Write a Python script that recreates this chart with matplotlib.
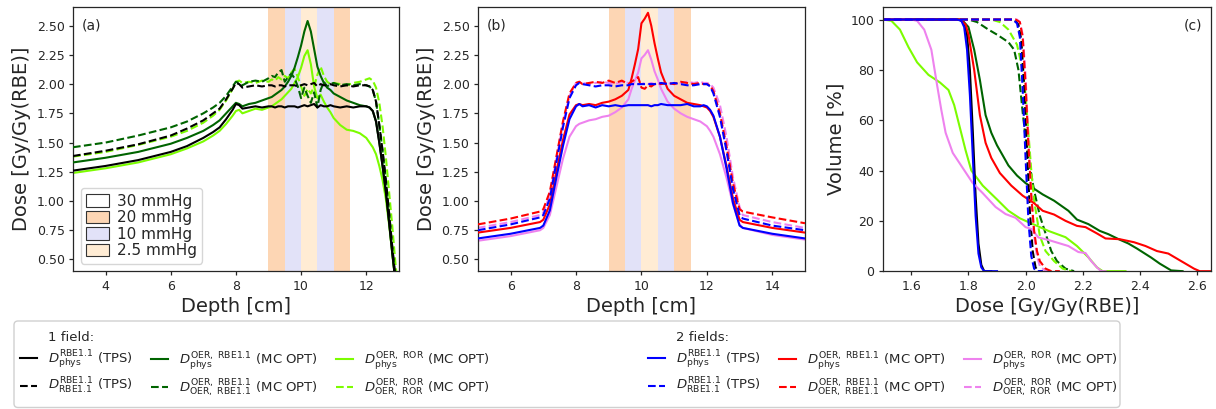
import matplotlib
matplotlib.use("Agg")
import matplotlib.pyplot as plt
from matplotlib.lines import Line2D
from matplotlib.patches import Patch, FancyBboxPatch
from matplotlib.transforms import IdentityTransform

# ---------------- data ----------------
# Panel (a): 1 field depth-dose profiles
depth_a = [3.0, 4.0, 5.0, 6.0, 6.5, 7.0, 7.3, 7.5, 7.7, 7.9,
           8.0, 8.1, 8.2, 8.4, 8.6, 8.8,
           9.0, 9.1, 9.2, 9.3, 9.4, 9.5, 9.6, 9.7, 9.8, 9.9, 10.0,
           10.1, 10.2, 10.3, 10.4, 10.5, 10.6, 10.7, 10.8, 10.9, 11.0,
           11.2, 11.4, 11.6, 11.8,
           12.0, 12.1, 12.2, 12.3, 12.4, 12.5, 12.6, 12.7, 12.8, 12.9, 13.0]

a_tps_phys = [1.26, 1.30, 1.35, 1.42, 1.47, 1.54, 1.59, 1.63, 1.70, 1.78,
              1.83, 1.82, 1.79, 1.80, 1.81, 1.80,
              1.81, 1.81, 1.80, 1.81, 1.81, 1.80, 1.81, 1.81, 1.81, 1.80, 1.81,
              1.82, 1.81, 1.82, 1.83, 1.80, 1.82, 1.81, 1.81, 1.82, 1.81,
              1.80, 1.81, 1.80, 1.81,
              1.81, 1.80, 1.77, 1.68, 1.50, 1.30, 1.08, 0.82, 0.55, 0.30, 0.15]

a_tps_rbe = [1.385, 1.43, 1.485, 1.56, 1.62, 1.69, 1.75, 1.79, 1.87, 1.96,
             2.01, 2.00, 1.97, 1.98, 1.99, 1.98,
             1.99, 1.99, 1.98, 1.99, 1.99, 1.98, 1.99, 1.99, 1.99, 1.98, 1.99,
             2.00, 1.99, 2.00, 2.01, 1.98, 2.00, 1.99, 1.99, 2.00, 1.99,
             1.98, 1.99, 1.98, 1.99,
             1.99, 1.98, 1.95, 1.85, 1.65, 1.43, 1.18, 0.90, 0.60, 0.33, 0.17]

a_oer_phys = [1.33, 1.37, 1.42, 1.49, 1.54, 1.60, 1.65, 1.69, 1.75, 1.81,
              1.84, 1.83, 1.81, 1.83, 1.84, 1.86,
              1.88, 1.89, 1.91, 1.93, 1.95, 1.98, 2.02, 2.07, 2.14, 2.23, 2.33,
              2.45, 2.54, 2.45, 2.30, 2.15, 2.07, 2.01, 1.97, 1.95, 1.92,
              1.89, 1.86, 1.84, 1.82,
              1.81, 1.80, 1.77, 1.68, 1.50, 1.30, 1.08, 0.82, 0.55, 0.30, 0.15]

a_oer_rbe = [1.46, 1.50, 1.56, 1.63, 1.68, 1.75, 1.80, 1.84, 1.90, 1.98,
             2.02, 2.01, 1.99, 2.02, 2.03, 2.02,
             2.05, 2.07, 2.06, 2.10, 2.12, 2.02, 2.06, 2.09, 2.05, 1.98, 1.88,
             1.97, 1.90, 1.84, 1.93, 1.80, 1.95, 2.02, 1.98, 2.00, 2.01,
             1.99, 2.00, 1.99, 2.00,
             1.99, 1.98, 1.95, 1.85, 1.65, 1.43, 1.18, 0.90, 0.60, 0.33, 0.17]

a_ror_phys = [1.24, 1.28, 1.33, 1.40, 1.45, 1.51, 1.56, 1.60, 1.66, 1.73,
              1.77, 1.78, 1.75, 1.77, 1.79, 1.78,
              1.80, 1.81, 1.83, 1.85, 1.87, 1.90, 1.93, 1.96, 2.01, 2.06, 2.14,
              2.24, 2.29, 2.17, 1.98, 1.88, 1.91, 1.85, 1.80, 1.76, 1.71,
              1.65, 1.61, 1.60, 1.58,
              1.54, 1.50, 1.46, 1.40, 1.30, 1.18, 1.02, 0.80, 0.55, 0.30, 0.15]

a_ror_rbe = [1.38, 1.42, 1.48, 1.55, 1.60, 1.67, 1.73, 1.78, 1.86, 1.96,
             2.02, 2.03, 2.01, 2.02, 2.01, 2.03,
             2.02, 2.04, 2.03, 2.06, 2.04, 2.07, 2.05, 2.10, 2.13, 2.06, 1.98,
             1.90, 1.96, 1.92, 1.98, 2.08, 2.15, 2.07, 2.02, 2.00, 2.01,
             2.00, 1.99, 2.01, 2.02,
             2.04, 2.05, 2.03, 1.97, 1.84, 1.64, 1.38, 1.08, 0.78, 0.45, 0.20]

# Panel (b): 2 fields depth-dose profiles
depth_b = [5.0, 6.0, 6.9, 7.0, 7.2, 7.4, 7.6, 7.8, 8.0, 8.1, 8.2, 8.4, 8.6, 8.8,
           9.0, 9.2, 9.4, 9.6, 9.7, 9.8, 9.9, 10.0, 10.1, 10.2, 10.3, 10.4,
           10.5, 10.6, 10.8, 11.0, 11.2, 11.4, 11.6, 11.8, 11.9, 12.0, 12.1,
           12.2, 12.4, 12.6, 12.8, 13.0, 13.1, 14.0, 15.0]

b_tps_phys = [0.68, 0.72, 0.77, 0.79, 0.92, 1.20, 1.47, 1.70, 1.81, 1.83, 1.81, 1.82, 1.80, 1.82,
              1.81, 1.82, 1.81, 1.82, 1.82, 1.82, 1.82, 1.82, 1.82, 1.82, 1.81, 1.82,
              1.82, 1.83, 1.82, 1.82, 1.82, 1.83, 1.81, 1.81, 1.82, 1.81, 1.78,
              1.73, 1.55, 1.28, 0.98, 0.79, 0.77, 0.72, 0.68]

b_tps_rbe = [0.75, 0.80, 0.86, 0.88, 1.02, 1.33, 1.63, 1.88, 1.99, 2.01, 2.00, 1.99, 1.98, 1.99,
             1.99, 1.98, 1.99, 1.99, 2.00, 2.00, 2.00, 2.00, 2.00, 2.00, 2.00, 2.00,
             2.00, 2.01, 2.00, 2.01, 2.00, 1.99, 1.99, 2.00, 2.00, 2.00, 1.98,
             1.92, 1.72, 1.43, 1.10, 0.88, 0.85, 0.79, 0.75]

b_oer_phys = [0.73, 0.77, 0.82, 0.84, 0.97, 1.25, 1.52, 1.74, 1.82, 1.83, 1.82, 1.83, 1.82, 1.84,
              1.85, 1.87, 1.90, 1.95, 2.05, 2.17, 2.30, 2.52, 2.56, 2.61, 2.50, 2.35,
              2.22, 2.10, 1.96, 1.90, 1.87, 1.84, 1.83, 1.82, 1.81, 1.80, 1.77,
              1.72, 1.55, 1.30, 1.02, 0.84, 0.82, 0.77, 0.73]

b_oer_rbe = [0.80, 0.85, 0.91, 0.93, 1.08, 1.38, 1.68, 1.92, 2.01, 2.02, 2.00, 2.01, 2.02, 2.01,
             2.03, 2.01, 2.03, 2.00, 2.02, 2.04, 2.06, 1.97, 1.96, 1.99, 1.98, 2.00,
             2.01, 2.00, 2.01, 2.00, 2.02, 2.01, 2.00, 2.01, 2.00, 2.00, 1.99,
             1.94, 1.75, 1.47, 1.15, 0.93, 0.91, 0.86, 0.81]

b_ror_phys = [0.66, 0.70, 0.75, 0.77, 0.88, 1.12, 1.36, 1.55, 1.64, 1.66, 1.67, 1.69, 1.70, 1.72,
              1.73, 1.76, 1.80, 1.87, 1.96, 2.03, 2.10, 2.22, 2.25, 2.29, 2.21, 2.11,
              2.04, 1.96, 1.85, 1.79, 1.75, 1.72, 1.70, 1.68, 1.66, 1.64, 1.60,
              1.55, 1.40, 1.20, 0.97, 0.80, 0.77, 0.71, 0.67]

b_ror_rbe = [0.77, 0.82, 0.88, 0.90, 1.05, 1.36, 1.66, 1.90, 2.01, 2.02, 2.01, 2.00, 2.01, 2.02,
             2.01, 2.00, 2.02, 2.01, 2.00, 2.01, 2.00, 2.00, 2.01, 2.00, 2.01, 2.00,
             2.01, 2.00, 2.01, 2.00, 2.01, 2.02, 2.01, 2.02, 2.01, 2.01, 2.00,
             1.97, 1.82, 1.55, 1.20, 0.95, 0.88, 0.82, 0.77]

# Panel (c): dose-volume histograms (dose, volume %)
c1_tps_phys_d = [1.50, 1.77, 1.785, 1.795, 1.805, 1.815, 1.825, 1.835, 1.845, 1.855, 1.88]
c1_tps_phys_v = [100, 100, 98.5, 94, 80, 56, 30, 11, 2.5, 0, 0]
c1_tps_rbe_d = [1.50, 1.96, 1.975, 1.985, 1.995, 2.005, 2.015, 2.025, 2.035, 2.045, 2.06]
c1_tps_rbe_v = [100, 100, 98, 92, 74, 48, 24, 8, 1.5, 0, 0]
c1_oer_phys_d = [1.50, 1.76, 1.78, 1.80, 1.82, 1.84, 1.86, 1.88, 1.90, 1.94, 1.97, 2.00, 2.06,
                 2.10, 2.15, 2.18, 2.22, 2.26, 2.29, 2.33, 2.36, 2.39, 2.44, 2.47, 2.51, 2.55]
c1_oer_phys_v = [100, 100, 99.5, 97, 88, 76, 62, 55, 50, 42, 38, 35, 30.5,
                 28, 24, 20.5, 18.7, 16, 14.7, 12.5, 11, 9, 5.4, 3, 0.3, 0]
c1_oer_rbe_d = [1.50, 1.80, 1.83, 1.87, 1.90, 1.94, 1.96, 1.975, 1.99, 2.00, 2.01, 2.03,
                2.05, 2.07, 2.09, 2.11, 2.14, 2.17]
c1_oer_rbe_v = [100, 100, 99, 96, 94, 91, 88, 80, 63, 53, 45, 32, 22, 15, 8, 4, 1, 0]
c1_ror_phys_d = [1.50, 1.53, 1.56, 1.59, 1.62, 1.66, 1.70, 1.73, 1.75, 1.77, 1.79, 1.81,
                 1.85, 1.90, 1.94, 1.98, 2.03, 2.08, 2.14, 2.18, 2.22, 2.25, 2.27, 2.35]
c1_ror_phys_v = [100, 99.5, 96, 89, 83, 78, 75, 72, 66, 57, 48, 40,
                 34, 28.5, 24, 21, 18.5, 16, 13.5, 10, 5.5, 1.5, 0, 0]
c1_ror_rbe_d = [1.50, 1.88, 1.91, 1.94, 1.97, 1.99, 2.00, 2.01, 2.02, 2.03, 2.05, 2.07,
                2.10, 2.13, 2.16]
c1_ror_rbe_v = [100, 100, 99, 96, 90, 80, 70, 55, 40, 28, 14, 8, 4, 1, 0]

c2_tps_phys_d = [1.50, 1.76, 1.775, 1.785, 1.795, 1.805, 1.815, 1.825, 1.835, 1.845, 1.855, 1.90]
c2_tps_phys_v = [100, 100, 99.5, 97, 88, 70, 46, 22, 7, 1.5, 0, 0]
c2_tps_rbe_d = [1.50, 1.955, 1.97, 1.98, 1.99, 2.00, 2.01, 2.02, 2.03, 2.04, 2.06]
c2_tps_rbe_v = [100, 100, 98.5, 93, 72, 45, 20, 6, 1, 0, 0]
c2_oer_phys_d = [1.50, 1.77, 1.79, 1.80, 1.82, 1.84, 1.86, 1.88, 1.91, 1.95, 1.99, 2.03,
                 2.06, 2.10, 2.14, 2.18, 2.21, 2.25, 2.28, 2.33, 2.38, 2.42, 2.46,
                 2.50, 2.53, 2.56, 2.59, 2.61, 2.66]
c2_oer_phys_v = [100, 100, 98, 94, 80, 62, 51, 45, 39, 34, 30, 27,
                 24, 22.5, 20, 18, 17.5, 15, 13, 12.7, 11.5, 10, 8,
                 7, 5, 3, 1, 0, 0]
c2_oer_rbe_d = [1.50, 1.965, 1.98, 1.99, 2.00, 2.01, 2.02, 2.03, 2.04, 2.05, 2.07, 2.09, 2.12]
c2_oer_rbe_v = [100, 100, 99, 93, 74, 50, 30, 16, 8, 4, 1, 0, 0]
c2_ror_phys_d = [1.50, 1.60, 1.62, 1.645, 1.67, 1.69, 1.705, 1.72, 1.745, 1.78, 1.815, 1.85,
                 1.895, 1.93, 1.965, 2.00, 2.02, 2.045, 2.08, 2.15, 2.185, 2.21, 2.23,
                 2.25, 2.265, 2.28]
c2_ror_phys_v = [100, 100, 99.5, 96, 88, 74, 64, 55, 47, 41, 35, 31,
                 25.5, 22.7, 21.2, 17.5, 16.8, 13.4, 12.4, 10, 7.6, 7.2, 4,
                 1.5, 0, 0]
c2_ror_rbe_d = [1.50, 1.97, 1.98, 1.99, 2.00, 2.01, 2.02, 2.03, 2.04, 2.05, 2.07, 2.09]
c2_ror_rbe_v = [100, 100, 99, 94, 78, 52, 30, 14, 6, 2, 0, 0]

# Hypoxic ring structure (bands)
band_edges = [9.0, 9.5, 10.0, 10.5, 11.0, 11.5]
band_pO2 = [20, 10, 2.5, 10, 20]
pO2_levels = [30, 20, 10, 2.5]
pO2_labels = ["30 mmHg", "20 mmHg", "10 mmHg", "2.5 mmHg"]

# legend texts
header_1 = "1 field:"
header_2 = "2 fields:"
lab_tps_phys = r"$D_{\rm phys}^{\rm RBE1.1}$ (TPS)"
lab_tps_rbe = r"$D_{\rm RBE1.1}^{\rm RBE1.1}$ (TPS)"
lab_oer_phys = r"$D_{\rm phys}^{\rm OER,\ RBE1.1}$ (MC OPT)"
lab_oer_rbe = r"$D_{\rm OER,\ RBE1.1}^{\rm OER,\ RBE1.1}$ (MC OPT)"
lab_ror_phys = r"$D_{\rm phys}^{\rm OER,\ ROR}$ (MC OPT)"
lab_ror_rbe = r"$D_{\rm OER,\ ROR}^{\rm OER,\ ROR}$ (MC OPT)"

# ---------------- style ----------------
TXT = "#262626"
plt.rcParams.update({
    "font.family": ["DejaVu Sans"],
    "text.color": TXT,
    "axes.labelcolor": TXT,
    "xtick.color": TXT,
    "ytick.color": TXT,
    "axes.edgecolor": TXT,
    "xtick.labelsize": 9,
    "ytick.labelsize": 9,
    "axes.labelsize": 14,
    "mathtext.fontset": "dejavusans",
})
band_color = {30: "#ffffff", 20: "#fdd6b4", 10: "#e2e2f8", 2.5: "#ffecd4"}
LW = 1.5
C_1 = ["black", "darkgreen", "lawngreen"]
C_2 = ["blue", "red", "violet"]

fig = plt.figure(figsize=(12.16, 4.09), dpi=100)
ax_a = fig.add_axes([0.060, 0.337, 0.268, 0.646])
ax_b = fig.add_axes([0.393, 0.337, 0.269, 0.646])
ax_c = fig.add_axes([0.726, 0.337, 0.270, 0.646])

for ax in (ax_a, ax_b):
    for i, lev in enumerate(band_pO2):
        ax.axvspan(band_edges[i], band_edges[i + 1], color=band_color[lev], lw=0, zorder=0)

# panel (a)
la_ror_s, = ax_a.plot(depth_a, a_ror_phys, color=C_1[2], lw=LW, zorder=2)
la_ror_d, = ax_a.plot(depth_a, a_ror_rbe, color=C_1[2], lw=LW, ls="--", zorder=2)
la_oer_s, = ax_a.plot(depth_a, a_oer_phys, color=C_1[1], lw=LW, zorder=3)
la_oer_d, = ax_a.plot(depth_a, a_oer_rbe, color=C_1[1], lw=LW, ls="--", zorder=3)
la_tps_s, = ax_a.plot(depth_a, a_tps_phys, color=C_1[0], lw=LW, zorder=4)
la_tps_d, = ax_a.plot(depth_a, a_tps_rbe, color=C_1[0], lw=LW, ls="--", zorder=4)
ax_a.set_xlim(3, 13)
ax_a.set_xticks([4, 6, 8, 10, 12])

# panel (b)
lb_ror_s, = ax_b.plot(depth_b, b_ror_phys, color=C_2[2], lw=LW, zorder=2)
lb_ror_d, = ax_b.plot(depth_b, b_ror_rbe, color=C_2[2], lw=LW, ls="--", zorder=2)
lb_oer_s, = ax_b.plot(depth_b, b_oer_phys, color=C_2[1], lw=LW, zorder=3)
lb_oer_d, = ax_b.plot(depth_b, b_oer_rbe, color=C_2[1], lw=LW, ls="--", zorder=3)
lb_tps_s, = ax_b.plot(depth_b, b_tps_phys, color=C_2[0], lw=LW, zorder=4)
lb_tps_d, = ax_b.plot(depth_b, b_tps_rbe, color=C_2[0], lw=LW, ls="--", zorder=4)
ax_b.set_xlim(5, 15)
ax_b.set_xticks([6, 8, 10, 12, 14])

yt = [0.5, 0.75, 1.0, 1.25, 1.5, 1.75, 2.0, 2.25, 2.5]
for ax in (ax_a, ax_b):
    ax.set_ylim(0.40, 2.66)
    ax.set_yticks(yt)
    ax.set_yticklabels([f"{v:.2f}" for v in yt])
    ax.set_xlabel("Depth [cm]", labelpad=3)
    ax.set_ylabel("Dose [Gy/Gy(RBE)]")

# panel (c)
ax_c.plot(c1_oer_phys_d, c1_oer_phys_v, color=C_1[1], lw=LW)
ax_c.plot(c1_oer_rbe_d, c1_oer_rbe_v, color=C_1[1], lw=LW, ls="--")
ax_c.plot(c1_ror_phys_d, c1_ror_phys_v, color=C_1[2], lw=LW)
ax_c.plot(c1_ror_rbe_d, c1_ror_rbe_v, color=C_1[2], lw=LW, ls="--")
ax_c.plot(c1_tps_phys_d, c1_tps_phys_v, color=C_1[0], lw=LW)
ax_c.plot(c1_tps_rbe_d, c1_tps_rbe_v, color=C_1[0], lw=LW, ls="--")
ax_c.plot(c2_ror_phys_d, c2_ror_phys_v, color=C_2[2], lw=LW)
ax_c.plot(c2_ror_rbe_d, c2_ror_rbe_v, color=C_2[2], lw=LW, ls="--")
ax_c.plot(c2_oer_phys_d, c2_oer_phys_v, color=C_2[1], lw=LW)
ax_c.plot(c2_oer_rbe_d, c2_oer_rbe_v, color=C_2[1], lw=LW, ls="--")
ax_c.plot(c2_tps_phys_d, c2_tps_phys_v, color=C_2[0], lw=LW)
ax_c.plot(c2_tps_rbe_d, c2_tps_rbe_v, color=C_2[0], lw=LW, ls="--")
ax_c.set_xlim(1.5, 2.65)
ax_c.set_ylim(0, 105)
ax_c.set_xticks([1.6, 1.8, 2.0, 2.2, 2.4, 2.6])
ax_c.set_yticks([0, 20, 40, 60, 80, 100])
ax_c.set_xlabel("Dose [Gy/Gy(RBE)]", labelpad=3)
ax_c.set_ylabel("Volume [%]")

for ax in (ax_a, ax_b, ax_c):
    for s in ax.spines.values():
        s.set_linewidth(0.9)
    ax.tick_params(width=0.9, length=3, pad=3)

ax_a.text(0.028, 0.93, "(a)", transform=ax_a.transAxes, fontsize=10, va="center")
ax_b.text(0.028, 0.93, "(b)", transform=ax_b.transAxes, fontsize=10, va="center")
ax_c.text(0.972, 0.93, "(c)", transform=ax_c.transAxes, fontsize=10, va="center", ha="right")

# pO2 legend in panel (a)
pO2_handles = [Patch(facecolor=band_color[lv], edgecolor="#333333", lw=0.8) for lv in pO2_levels]
ax_a.legend(pO2_handles, pO2_labels, loc="lower left", fontsize=11,
            handlelength=1.5, handleheight=0.9, labelspacing=0.1, borderpad=0.35,
            handletextpad=0.5)

# bottom legend (frame drawn separately)
frame = FancyBboxPatch((14, 1.5), 1106, 86.5, boxstyle="round,pad=0,rounding_size=4",
                       transform=IdentityTransform(), facecolor="white",
                       edgecolor="#d0d0d0", lw=1.0)
fig.patches.append(frame)

blank = Line2D([], [], linestyle="none")
spacer = " " * 22
handles = [blank, la_tps_s, la_tps_d,
           blank, la_oer_s, la_oer_d,
           blank, la_ror_s, la_ror_d,
           blank, blank, blank,
           blank, lb_tps_s, lb_tps_d,
           blank, lb_oer_s, lb_oer_d,
           blank, lb_ror_s, lb_ror_d]
labels = [header_1, lab_tps_phys, lab_tps_rbe,
          "", lab_oer_phys, lab_oer_rbe,
          "", lab_ror_phys, lab_ror_rbe,
          spacer, spacer, spacer,
          header_2, lab_tps_phys, lab_tps_rbe,
          "", lab_oer_phys, lab_oer_rbe,
          "", lab_ror_phys, lab_ror_rbe]
fig.legend(handles, labels, ncol=7, loc="lower left",
           bbox_to_anchor=(15 / 1216, 5 / 409), borderaxespad=0,
           fontsize=9.5, handlelength=1.3, handletextpad=0.8,
           columnspacing=1.4, labelspacing=0.4, borderpad=0.4, frameon=False)

fig.savefig("out.png", dpi=100)
